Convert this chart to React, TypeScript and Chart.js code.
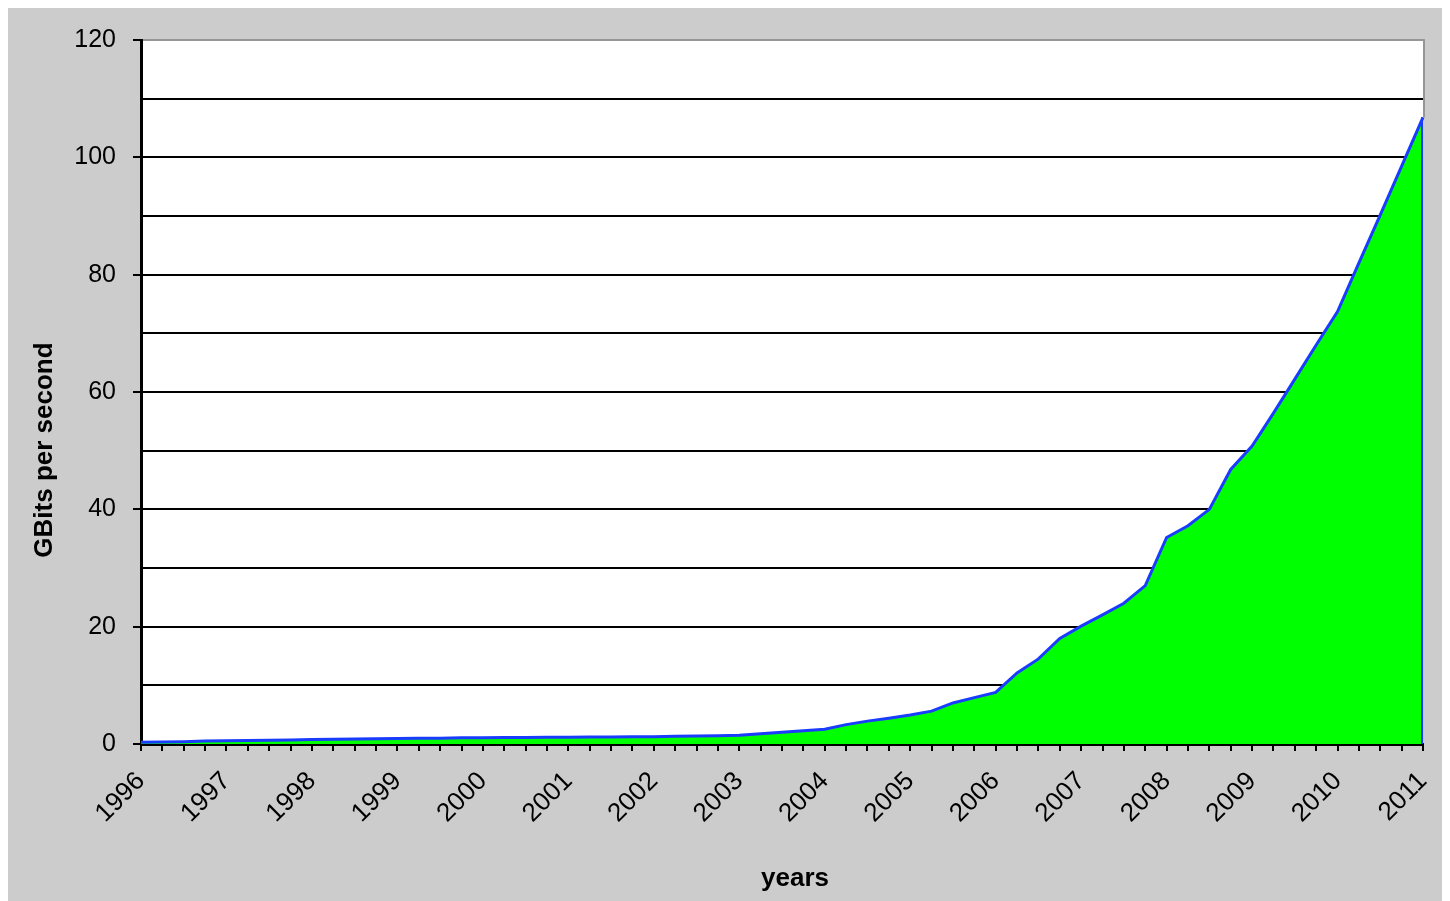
import React, { useEffect, useRef } from "react";
import { Chart, registerables } from "chart.js";

Chart.register(...registerables);

// ---- data ----
const years: string[] = [
  "1996", "1997", "1998", "1999", "2000", "2001", "2002", "2003",
  "2004", "2005", "2006", "2007", "2008", "2009", "2010", "2011",
];
const quarterNames: string[] = ["Q1", "Q2", "Q3", "Q4"];
const categories: string[] = years
  .flatMap((y) => quarterNames.map((q) => `${y} ${q}`))
  .slice(0, 61);

const bandwidth: number[] = [
  0.3, 0.35, 0.4, 0.5, // 1996
  0.55, 0.6, 0.65, 0.7, // 1997
  0.75, 0.8, 0.85, 0.9, // 1998
  0.95, 1.0, 1.0, 1.05, // 1999
  1.05, 1.1, 1.1, 1.15, // 2000
  1.15, 1.2, 1.2, 1.25, // 2001
  1.25, 1.3, 1.35, 1.4, // 2002
  1.5, 1.75, 2.0, 2.25, // 2003
  2.5, 3.3, 3.9, 4.4, // 2004
  4.95, 5.6, 7.0, 7.9, // 2005
  8.8, 12.1, 14.5, 18.0, // 2006
  20.1, 22.0, 24.0, 27.0, // 2007
  35.2, 37.2, 40.0, 46.8, // 2008
  50.8, 56.4, 62.2, 68.0, // 2009
  73.7, 82.0, 90.2, 98.5, // 2010
  106.8, // 2011
];

const yTitle = "GBits per second";
const xTitle = "years";

const FONT = "'Liberation Sans', Arial, Helvetica, sans-serif";

export default function App() {
  const ref = useRef<HTMLCanvasElement | null>(null);

  useEffect(() => {
    if (!ref.current) return;
    document.body.style.overflow = "hidden";

    const decor = {
      id: "decor",
      beforeDraw(chart: any) {
        const { ctx, chartArea } = chart;
        ctx.save();
        ctx.fillStyle = "#ffffff";
        ctx.fillRect(
          chartArea.left,
          chartArea.top,
          chartArea.right - chartArea.left,
          chartArea.bottom - chartArea.top
        );
        ctx.restore();
      },
      afterDatasetsDraw(chart: any) {
        const { ctx, chartArea, scales } = chart;
        const last = bandwidth.length - 1;
        const xp = scales.x.getPixelForValue(last);
        const yp = scales.y.getPixelForValue(bandwidth[last]);
        const y0 = scales.y.getPixelForValue(0);
        ctx.save();
        ctx.strokeStyle = "#1a3cff";
        ctx.lineWidth = 2;
        ctx.beginPath();
        ctx.moveTo(xp - 1, yp);
        ctx.lineTo(xp - 1, y0);
        ctx.stroke();
        ctx.strokeStyle = "#969696";
        ctx.lineWidth = 2;
        ctx.beginPath();
        ctx.moveTo(chartArea.right + 1, chartArea.top - 1);
        ctx.lineTo(chartArea.right + 1, Math.min(yp, chartArea.bottom));
        ctx.stroke();
        ctx.restore();
      },
      afterDraw(chart: any) {
        const { ctx } = chart;
        ctx.save();
        ctx.fillStyle = "#000000";
        ctx.font = `bold 26px ${FONT}`;
        ctx.textAlign = "center";
        ctx.textBaseline = "middle";
        ctx.fillText(xTitle, 789, 871);
        ctx.translate(39, 442);
        ctx.rotate(-Math.PI / 2);
        ctx.fillText(yTitle, 0, 0);
        ctx.restore();
      },
    };

    const chart = new Chart(ref.current, {
      type: "line",
      data: {
        labels: categories,
        datasets: [
          {
            data: bandwidth,
            borderColor: "#1a3cff",
            borderWidth: 3,
            backgroundColor: "#00ff00",
            fill: "origin",
            pointRadius: 0,
            tension: 0,
          },
        ],
      },
      options: {
        animation: false,
        responsive: false,
        devicePixelRatio: 1,
        layout: { padding: { left: 0, right: 27, top: 32, bottom: 0 } },
        plugins: {
          legend: { display: false },
          tooltip: { enabled: false },
          title: { display: false },
        },
        scales: {
          x: {
            type: "category",
            offset: false,
            afterFit: (s: any) => {
              s.height = 157;
              s.paddingLeft = 0;
              s.paddingRight = 0;
            },
            border: { color: "#000000", width: 3 },
            grid: {
              display: true,
              drawOnChartArea: false,
              drawTicks: true,
              tickLength: 7,
              tickColor: "#000000",
              tickWidth: 2,
              color: "#000000",
              lineWidth: 2,
            },
            ticks: {
              autoSkip: false,
              maxRotation: 45,
              minRotation: 45,
              padding: 15,
              color: "#000000",
              font: { family: FONT, size: 26 },
              callback: (_v: any, i: number) => (i % 4 === 0 ? years[i / 4] : ""),
            },
          },
          y: {
            min: 0,
            max: 120,
            afterFit: (s: any) => {
              s.width = 135;
              s.paddingTop = 0;
              s.paddingBottom = 0;
            },
            border: { color: "#000000", width: 3 },
            grid: {
              drawTicks: true,
              tickLength: 8,
              lineWidth: 2,
              color: (c: any) => (c.tick && c.tick.value === 120 ? "#969696" : "#000000"),
              tickColor: (c: any) =>
                c.tick && c.tick.value % 20 === 0 ? "#000000" : "rgba(0,0,0,0)",
            },
            ticks: {
              stepSize: 10,
              padding: 17,
              color: "#000000",
              font: { family: FONT, size: 25 },
              callback: (v: any) => (Number(v) % 20 === 0 ? String(v) : ""),
            },
          },
        },
      },
      plugins: [decor],
    });

    return () => {
      chart.destroy();
    };
  }, []);

  return (
    <div
      style={{
        width: 1444,
        height: 893,
        marginLeft: -2,
        background: "#cccccc",
        position: "relative",
      }}
    >
      <canvas ref={ref} width={1444} height={893} style={{ display: "block" }} />
    </div>
  );
}
